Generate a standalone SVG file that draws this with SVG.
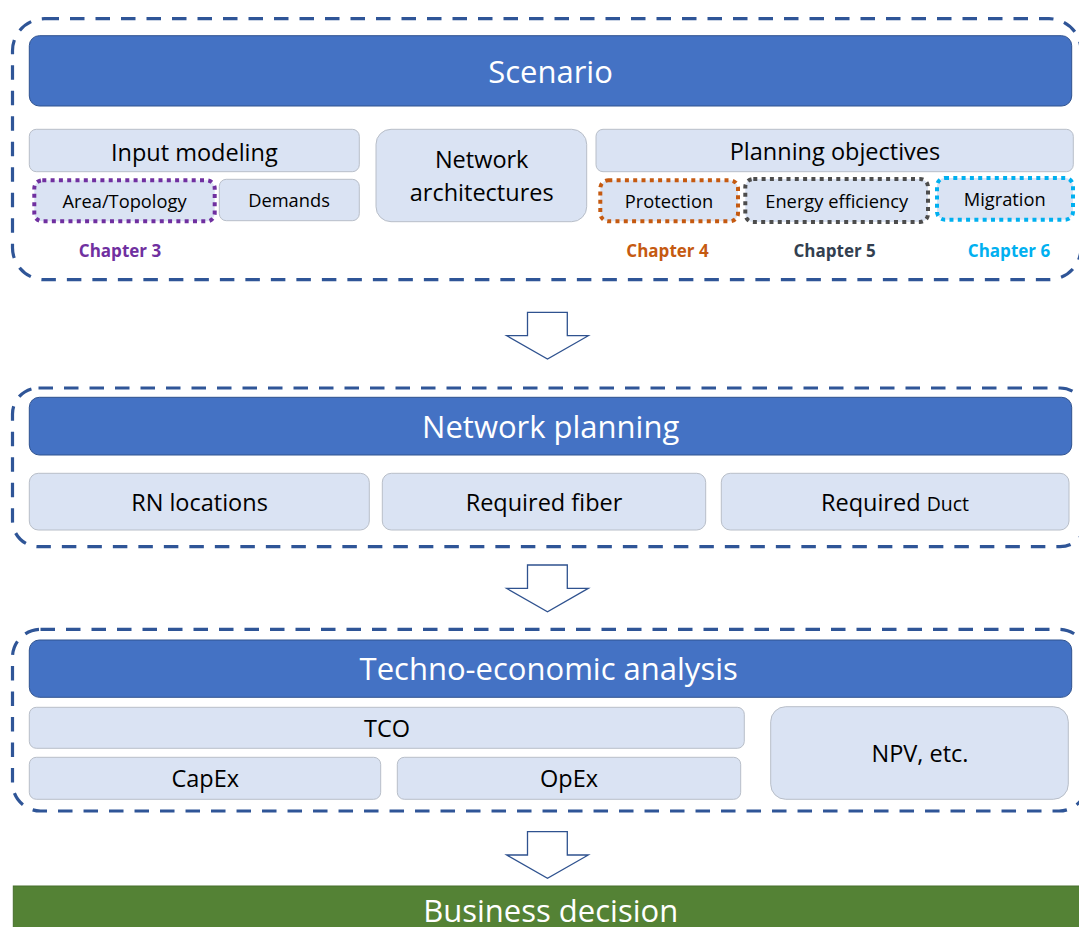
<svg xmlns="http://www.w3.org/2000/svg" width="1079" height="927" viewBox="0 0 1079 927">
<style>
text{font-family:"Open Sans","Liberation Sans",sans-serif;text-anchor:middle;fill:#000}
.grp{fill:none;stroke:#2F5597;stroke-width:3.2;stroke-dasharray:14.5 11}
.hdr{fill:#4472C4;stroke:#2F528F;stroke-width:1}
.hdrt{fill:#fff;font-size:31px}
.box{fill:#DAE3F3;stroke:#B8BEC8;stroke-width:1}
.mid{font-size:23.5px}
.sm{font-size:18.3px}
.dot{fill:#DAE3F3;stroke-width:4;stroke-dasharray:4 4.3}
.ch{font-size:17px;font-weight:bold}
.arr{fill:#fff;stroke:#2F528F;stroke-width:1.3;stroke-linejoin:miter}
</style>
<rect width="1079" height="927" fill="#fff"/>

<g id="scenario-group">
<rect class="grp" x="12.5" y="18.7" width="1068.5" height="261" rx="32"/>
<rect class="hdr" x="29.3" y="35.7" width="1042.4" height="70.3" rx="10"/>
<text class="hdrt" x="550.5" y="83">Scenario</text>
</g>

<g id="input-modeling">
<rect class="box" x="29.3" y="129.3" width="330" height="42.4" rx="7"/>
<text class="mid" x="194.3" y="161">Input modeling</text>
</g>
<g id="area-topology">
<rect class="dot" stroke="#7030A0" x="34.3" y="180.3" width="180.4" height="41" rx="8"/>
<text class="sm" x="124.5" y="208">Area/Topology</text>
</g>
<g id="demands">
<rect class="box" x="219.3" y="179.3" width="140" height="41.4" rx="7"/>
<text class="sm" x="289" y="207">Demands</text>
</g>
<g id="network-architectures">
<rect class="box" x="376" y="129.3" width="210.7" height="92.4" rx="15"/>
<text class="mid" x="481.7" y="168.3">Network</text>
<text class="mid" x="481.7" y="201">architectures</text>
</g>
<g id="planning-objectives">
<rect class="box" x="596" y="129.3" width="477.3" height="42.4" rx="7"/>
<text class="mid" x="835" y="159.5">Planning objectives</text>
</g>
<g id="protection">
<rect class="dot" stroke="#C55A11" x="600.3" y="180.3" width="137.7" height="41" rx="8"/>
<text class="sm" x="669" y="207.5">Protection</text>
</g>
<g id="energy-efficiency">
<rect class="dot" stroke="#4D4D4D" x="745.3" y="179" width="182.7" height="43" rx="8"/>
<text class="sm" x="836.7" y="207.5">Energy efficiency</text>
</g>
<g id="migration">
<rect class="dot" stroke="#00B0F0" x="937" y="178" width="136" height="41.7" rx="8"/>
<text class="sm" x="1004.7" y="205.5">Migration</text>
</g>
<g id="chapters">
<text class="ch" x="120" y="256.5" style="fill:#7030A0">Chapter 3</text>
<text class="ch" x="667.5" y="256.5" style="fill:#C55A11">Chapter 4</text>
<text class="ch" x="834.7" y="256.5" style="fill:#333F50">Chapter 5</text>
<text class="ch" x="1009" y="256.5" style="fill:#00B0F0">Chapter 6</text>
</g>

<g id="network-planning-group">
<rect class="grp" x="12.5" y="388" width="1073.5" height="158.7" rx="26"/>
<rect class="hdr" x="29.3" y="397.3" width="1042.4" height="57.7" rx="10"/>
<text class="hdrt" x="550.7" y="437.7">Network planning</text>
</g>
<g id="rn-locations">
<rect class="box" x="29.3" y="473.3" width="340" height="56.7" rx="9"/>
<text class="mid" x="199.5" y="510.7">RN locations</text>
</g>
<g id="required-fiber">
<rect class="box" x="382.3" y="473.3" width="323.4" height="56.7" rx="9"/>
<text class="mid" x="544" y="510.7">Required fiber</text>
</g>
<g id="required-duct">
<rect class="box" x="721.3" y="473.3" width="347.7" height="56.7" rx="9"/>
<text class="mid" x="895" y="510.7">Required <tspan style="font-size:19.5px">Duct</tspan></text>
</g>

<g id="techno-economic-group">
<rect class="grp" x="12.5" y="629.3" width="1074.5" height="181.7" rx="28"/>
<rect class="hdr" x="29.3" y="640" width="1042.4" height="57.3" rx="10"/>
<text class="hdrt" x="548.7" y="680">Techno-economic analysis</text>
</g>
<g id="tco">
<rect class="box" x="29.3" y="707.3" width="715" height="41" rx="7"/>
<text class="mid" x="387" y="736.7">TCO</text>
</g>
<g id="capex">
<rect class="box" x="29.3" y="757.3" width="351.4" height="42" rx="7"/>
<text class="mid" x="205.3" y="786.7">CapEx</text>
</g>
<g id="opex">
<rect class="box" x="397.3" y="757.3" width="343.4" height="42" rx="7"/>
<text class="mid" x="569" y="786.7">OpEx</text>
</g>
<g id="npv">
<rect class="box" x="770.7" y="706.7" width="297.6" height="92.6" rx="15"/>
<text class="mid" x="920" y="761.7">NPV, etc.</text>
</g>

<g id="business-decision">
<rect x="13.3" y="886" width="1070" height="45" fill="#548235" stroke="#466E2C" stroke-width="1"/>
<text class="hdrt" x="550.7" y="921.5">Business decision</text>
</g>

<g id="connectors">
<polygon class="arr" points="527.5,312.3 567.3,312.3 567.3,335.7 588.3,335.7 547.5,359 506.7,335.7 527.5,335.7"/>
<polygon class="arr" points="527.5,565 567.3,565 567.3,588.4 588.3,588.4 547.5,611.7 506.7,588.4 527.5,588.4"/>
<polygon class="arr" points="527.5,831.6 567.3,831.6 567.3,855 588.3,855 547.5,878.3 506.7,855 527.5,855"/>
</g>
</svg>
